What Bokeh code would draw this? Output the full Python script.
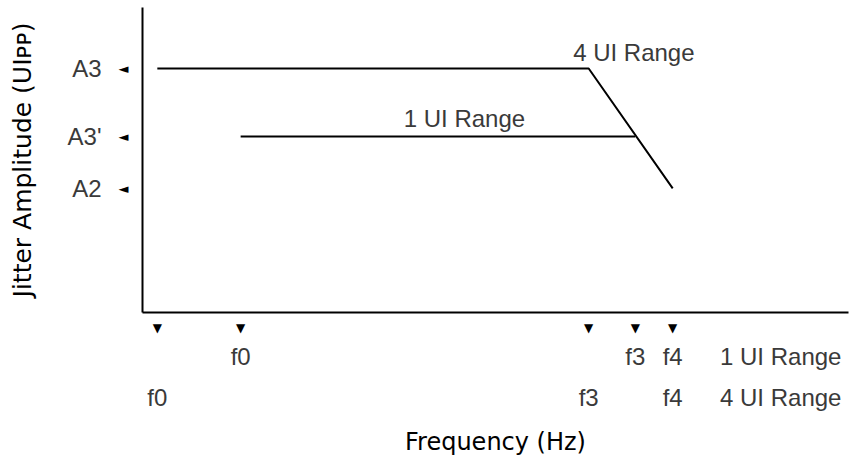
from bokeh.plotting import figure
from bokeh.models import Range1d, LinearAxis, FixedTicker
from bokeh.core.properties import value
from bokeh.embed import file_html
from bokeh.resources import INLINE

# ---- data (arbitrary, linear position units) ----
freq_4ui = [21, 632, 751]          # f0, f3, f4 of the 4 UI range
amp_4ui = [800, 800, 407]          # A3, A3, A2
freq_1ui = [139, 698]              # f0, f3 of the 1 UI range
amp_1ui = [577, 577]               # A3', A3'

amp_ticks = [800, 577, 407]
amp_labels = ["A3", "A3'", "A2"]

arrow_ticks = [21, 139, 632, 698, 751]
row1_ticks = [139, 698, 751, 904]
row1_labels = ["f0", "f3", "f4", "1 UI Range"]
row2_ticks = [21, 632, 751, 904]
row2_labels = ["f0", "f3", "f4", "4 UI Range"]

curve_names = ["4 UI Range", "1 UI Range"]
name_x = [610, 370]
name_y = [852, 636]

LIGHT = "Liberation Sans"
BOLD = "DejaVu Sans"

p = figure(width=860, height=460,
           x_range=Range1d(0, 1000), y_range=Range1d(0, 1000),
           x_axis_location=None, y_axis_location=None,
           output_backend="svg", toolbar_location=None,
           min_border_left=142, min_border_right=12,
           min_border_top=7, min_border_bottom=148)
p.outline_line_color = None
p.xgrid.visible = False
p.ygrid.visible = False
p.background_fill_color = "white"
p.border_fill_color = "white"


def bare_axis(ticks, overrides, standoff, size, font, color, line=False):
    ax = LinearAxis(ticker=FixedTicker(ticks=ticks),
                    major_label_overrides=dict(zip(ticks, overrides)))
    ax.major_tick_in = 0
    ax.major_tick_out = 0
    ax.minor_tick_in = 0
    ax.minor_tick_out = 0
    ax.major_tick_line_color = None
    ax.minor_tick_line_color = None
    ax.major_label_standoff = standoff
    ax.major_label_text_font_size = size
    ax.major_label_text_font = font
    ax.major_label_text_color = color
    if line:
        ax.axis_line_color = "black"
        ax.axis_line_width = 2
    else:
        ax.axis_line_color = None
    return ax


# left side: arrow marks next to the axis, then the amplitude names
left_arrows = bare_axis(amp_ticks, ["◄"] * len(amp_ticks), 14, "13px", BOLD, "black", line=True)
left_names = bare_axis(amp_ticks, amp_labels, 14, "24px", LIGHT, "#3a3a3a")
left_names.axis_label = "Jitter Amplitude (UIᴘᴘ)"
left_names.axis_label_text_font = BOLD
left_names.axis_label_text_font_size = "25px"
left_names.axis_label_text_font_style = "normal"
left_names.axis_label_text_color = "black"
left_names.axis_label_standoff = 28
p.add_layout(left_arrows, "left")
p.add_layout(left_names, "left")

# bottom: arrow marks, then the 1 UI row, then the 4 UI row
bottom_arrows = bare_axis(arrow_ticks, ["▼"] * len(arrow_ticks), 8, "12px", BOLD, "black", line=True)
row1 = bare_axis(row1_ticks, row1_labels, 5, "24px", LIGHT, "#3a3a3a")
row2 = bare_axis(row2_ticks, row2_labels, 11, "24px", LIGHT, "#3a3a3a")
row2.axis_label = "Frequency (Hz)"
row2.axis_label_text_font = BOLD
row2.axis_label_text_font_size = "24px"
row2.axis_label_text_font_style = "normal"
row2.axis_label_text_color = "black"
row2.axis_label_standoff = 14
p.add_layout(bottom_arrows, "below")
p.add_layout(row1, "below")
p.add_layout(row2, "below")

# the two tolerance curves
p.line(freq_4ui, amp_4ui, line_color="black", line_width=2)
p.line(freq_1ui, amp_1ui, line_color="black", line_width=2)

p.text(x=name_x, y=name_y, text=curve_names,
       text_font=value(LIGHT), text_font_size="24px",
       text_color="#3a3a3a", text_baseline="alphabetic", text_align="left")

open("out.html", "w").write(file_html(p, INLINE))
